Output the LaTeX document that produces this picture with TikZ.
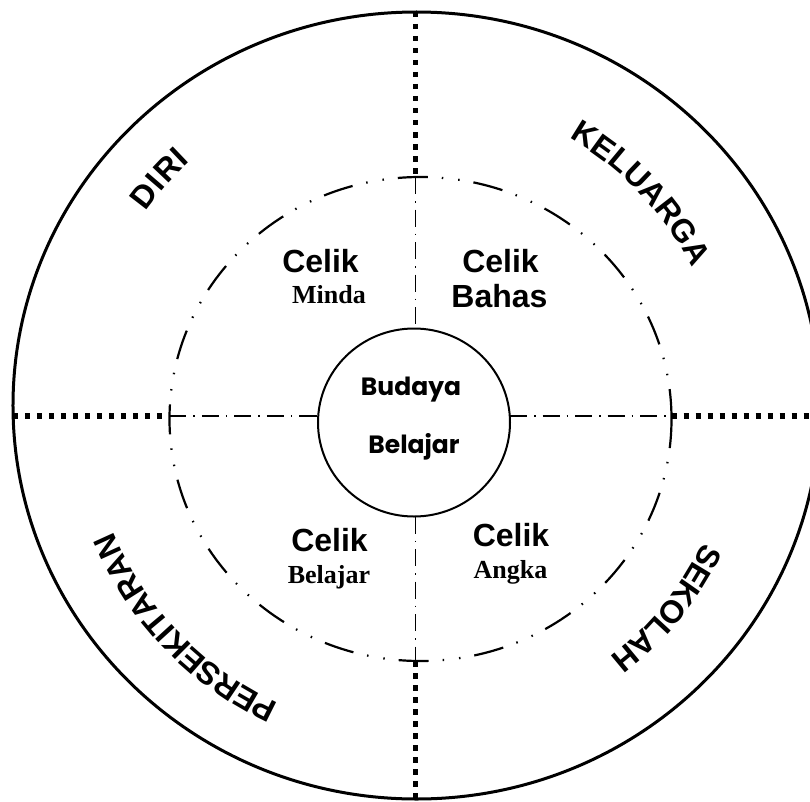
\documentclass[tikz,border=0pt]{standalone}
\usepackage{fontspec}
\setsansfont{Liberation Sans}
\newfontfamily\serifbold{Liberation Serif}
\newfontfamily\roundfont{Poppins}
\usetikzlibrary{shapes.geometric,decorations.text}

\begin{document}
\begin{tikzpicture}[x=1pt, y=1pt,
    ring/.style={draw, ellipse, inner sep=0pt, outer sep=0pt},
    fence/.style={line width=5.5pt, dash pattern=on 5.5pt off 6.5pt},
    spoke/.style={line width=1.6pt, dash pattern=on 17pt off 7pt on 1.5pt off 7pt},
    head/.style={inner sep=0pt, anchor=base, font=\sffamily\bfseries\fontsize{32}{32}\selectfont},
    sub/.style={inner sep=0pt, anchor=base, font=\serifbold\bfseries\fontsize{26}{26}\selectfont},
    hubtext/.style={inner sep=0pt, anchor=base, font=\roundfont\bfseries\fontsize{25}{25}\selectfont},
    arcword/.style 2 args={decorate, decoration={text along path, text align=center, raise=#2,
        text={|\sffamily\bfseries\fontsize{32}{32}\selectfont|#1}}}
]
\useasboundingbox (-416.5,-395.5) rectangle (393.5,405.5);

% Rings
\node[ring, line width=3pt, minimum width=807pt, minimum height=787pt] (outer) at (0,0) {};
\node[ring, line width=2.2pt, dash pattern=on 30pt off 14pt on 1.5pt off 15pt on 1.5pt off 14pt,
    minimum width=502pt, minimum height=484pt] (mid) at (4,-13.5) {};
\node[ring, line width=2pt, minimum width=192pt, minimum height=188pt] (hub) at (-2.5,-17) {};
\coordinate (cross) at (-1,-10.5);

% Vertical divider
\draw[fence] (cross |- outer.north) -- (cross |- mid.north);
\draw[spoke] (cross |- mid.north) -- (cross |- hub.north);
\draw[spoke] (cross |- hub.south) -- (cross |- mid.south);
\draw[fence] (cross |- mid.south) -- (cross |- outer.south);

% Horizontal divider
\draw[fence] (outer.west |- cross) -- (mid.west |- cross);
\draw[spoke] (mid.west |- cross) -- (hub.west |- cross);
\draw[spoke] (hub.east |- cross) -- (mid.east |- cross);
\draw[fence] (mid.east |- cross) -- (outer.east |- cross);

% Centre
\node[hubtext] (budaya) at (-5.5,10.5) {Budaya};
\node[hubtext] (belajarhub) at (-2.5,-47.5) {Belajar};

% Inner quarters
\node[head] (celikminda) at (-96,133.5) {Celik};
\node[sub] (minda) at (-87.5,102.5) {Minda};
\node[head] (celikbahas) at (84,133.5) {Celik};
\node[head] (bahas) at (83,98.5) {Bahas};
\node[head] (celikbelajar) at (-87,-146.2) {Celik};
\node[sub] (belajar) at (-87.5,-177.5) {Belajar};
\node[head] (celikangka) at (94.5,-141.2) {Celik};
\node[sub] (angka) at (94,-172.5) {Angka};

% Outer quarters
\path[arcword={DIRI}{20pt}] (178.6:313) arc[start angle=178.6, end angle=98.6, radius=313];
\path[arcword={KELUARGA}{0pt}] (93.4:308) arc[start angle=93.4, end angle=-6.6, radius=308];
\path[arcword={PERSEKITARAN}{-11.5pt}] (283.9:340) arc[start angle=283.9, end angle=163.9, radius=340];
\path[arcword={SEKOLAH}{-18.5pt}] (11:336) arc[start angle=11, end angle=-89, radius=336];

\end{tikzpicture}
\end{document}
